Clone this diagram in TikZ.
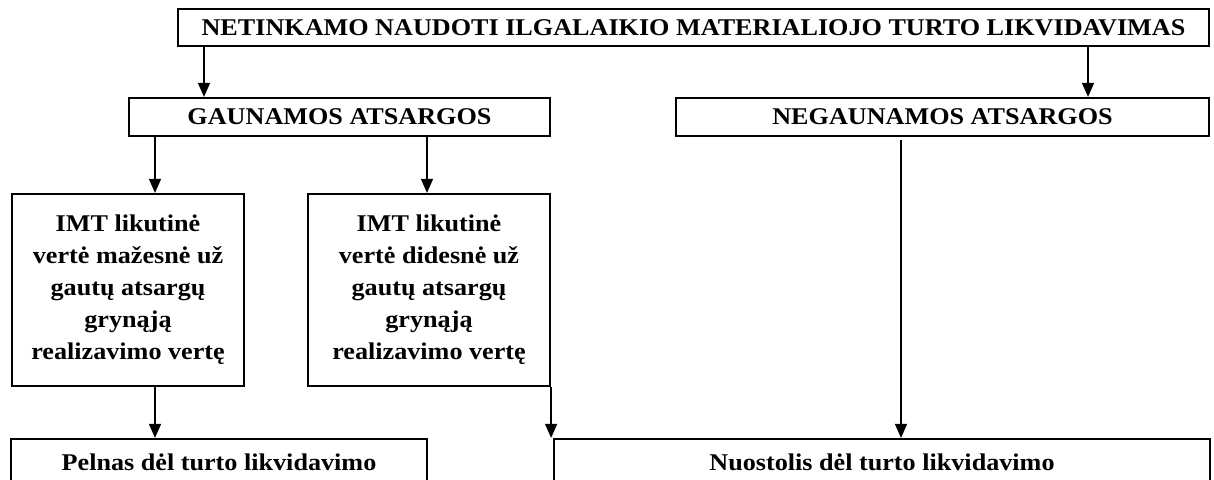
\documentclass[tikz,border=0pt]{standalone}
\usepackage{fontspec}
\setmainfont{Liberation Serif}[FakeStretch=1.09]
\usepackage{tikz}
\usetikzlibrary{arrows.meta, positioning, calc}

\begin{document}
\begin{tikzpicture}[x=1pt, y=-1pt, >={Triangle[width=12pt, length=14pt]},
    box/.style={draw, line width=2.2pt, inner sep=0pt, align=center,
        font=\fontsize{24}{32}\selectfont\bfseries},
    arr/.style={->, line width=1.4pt}]
    \useasboundingbox (0,0) rectangle (1214,479);
    \clip (0,0) rectangle (1214,479);
    % boxes
    \node[box, minimum width=1031pt, minimum height=37pt] (likv) at (693.5,27.5)
        {NETINKAMO NAUDOTI ILGALAIKIO MATERIALIOJO TURTO LIKVIDAVIMAS};
    \node[box, minimum width=421pt, minimum height=38pt] (gaun) at (339.5,117) {GAUNAMOS ATSARGOS};
    \node[box, minimum width=533pt, minimum height=38pt] (negaun) at (942.5,117) {NEGAUNAMOS ATSARGOS};
    \node[box, minimum width=232pt, minimum height=192pt] (mazesne) at (128,290)
        {IMT likutinė\\vertė mažesnė už\\gautų atsargų\\grynąją\\realizavimo vertę};
    \node[box, minimum width=242pt, minimum height=192pt] (didesne) at (429,290)
        {IMT likutinė\\vertė didesnė už\\gautų atsargų\\grynąją\\realizavimo vertę};
    \node[box, minimum width=416pt, minimum height=46pt] (pelnas) at (219,462) {Pelnas dėl turto likvidavimo};
    \node[box, minimum width=656pt, minimum height=46pt] (nuost) at (882,462) {Nuostolis dėl turto likvidavimo};
    % arrow columns
    \coordinate (ca) at (204,0);
    \coordinate (cb) at (1088,0);
    \coordinate (cc) at (155,0);
    \coordinate (cd) at (427,0);
    \coordinate (ce) at (901,0);
    \draw[arr] (likv.south -| ca) -- (gaun.north -| ca);
    \draw[arr] (likv.south -| cb) -- (negaun.north -| cb);
    \draw[arr] (gaun.south -| cc) -- (mazesne.north -| cc);
    \draw[arr] (gaun.south -| cd) -- (didesne.north -| cd);
    \draw[arr] (mazesne.south -| cc) -- (pelnas.north -| cc);
    \draw[arr] (didesne.south east) -- (didesne.south east |- nuost.north);
    \draw[arr, shorten <=3pt] (negaun.south -| ce) -- (nuost.north -| ce);
\end{tikzpicture}
\end{document}
